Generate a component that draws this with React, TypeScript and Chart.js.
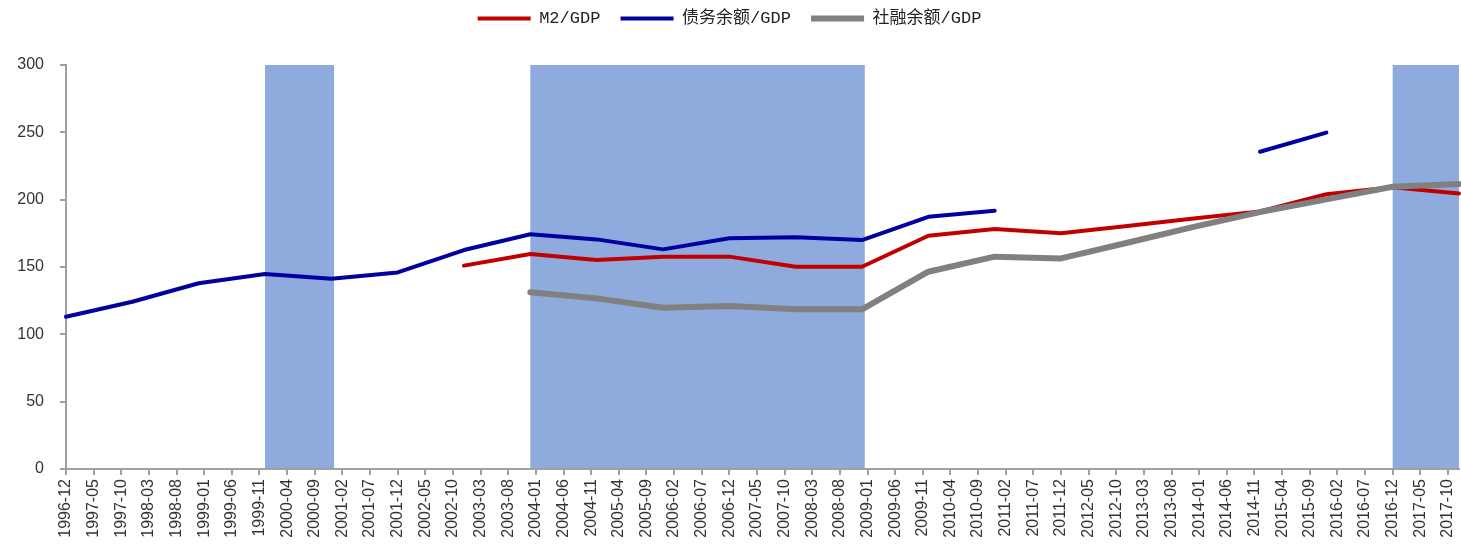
import React, { useEffect, useRef } from "react";
import { Chart, registerables } from "chart.js";

Chart.register(...registerables);

// ---- categories: monthly axis 1996-12 .. 2017-12 ----
const FIRST_MONTH = { year: 1996, month: 12 };
const LAST_MONTH = { year: 2017, month: 12 };
const LABEL_EVERY = 5;

function buildMonths(): string[] {
  const out: string[] = [];
  let y = FIRST_MONTH.year;
  let m = FIRST_MONTH.month;
  while (y < LAST_MONTH.year || (y === LAST_MONTH.year && m <= LAST_MONTH.month)) {
    out.push(`${y}-${m < 10 ? "0" + m : m}`);
    m += 1;
    if (m > 12) {
      m = 1;
      y += 1;
    }
  }
  return out;
}
const months = buildMonths();

// ---- year-end observations (December of each year) ----
const years = [
  1996, 1997, 1998, 1999, 2000, 2001, 2002, 2003, 2004, 2005, 2006,
  2007, 2008, 2009, 2010, 2011, 2012, 2013, 2014, 2015, 2016, 2017,
];
const m2Gdp = [
  null, null, null, null, null, null, 151.0, 159.6, 155.2, 157.7, 157.7,
  150.2, 150.2, 173.2, 178.2, 175.0, 180.5, 186.0, 191.3, 204.0, 209.3, 204.5,
];
const debtGdp = [
  113.1, 124.2, 137.9, 144.8, 141.3, 146.0, 162.6, 174.3, 170.5, 163.1, 171.3,
  172.0, 170.0, 187.3, 191.8, null, null, null, 235.6, 249.8, null, null,
];
const tsfGdp = [
  null, null, null, null, null, null, null, 131.2, 126.7, 119.8, 121.0,
  118.6, 118.6, 146.5, 157.7, 156.4, 168.0, 179.8, 190.8, 200.2, 209.6, 211.6,
];

const seriesNames = ["M2/GDP", "债务余额/GDP", "社融余额/GDP"];
const seriesColors = ["#C00000", "#0000A0", "#808080"];

// shaded periods (start month, end month)
const shadedPeriods: [string, string][] = [
  ["1999-12", "2000-12"],
  ["2003-12", "2008-12"],
  ["2016-12", "2017-12"],
];
const SHADE_COLOR = "#8FAADC";

const AXIS_COLOR = "#A0A0A0";
const TEXT_COLOR = "#333333";

const toPoints = (vals: (number | null)[]) =>
  years.map((yr, i) => ({ x: `${yr}-12`, y: vals[i] }));

const bandsPlugin = {
  id: "shadedBands",
  beforeDraw(chart: any) {
    const x = chart.scales.x;
    const { top, bottom, right } = chart.chartArea;
    const ctx = chart.ctx;
    const step = x.getPixelForValue(1) - x.getPixelForValue(0);
    ctx.save();
    ctx.fillStyle = SHADE_COLOR;
    for (const [s, e] of shadedPeriods) {
      const x0 = x.getPixelForValue(months.indexOf(s));
      const x1 = Math.min(right, x.getPixelForValue(months.indexOf(e)) + step / 2);
      ctx.fillRect(x0, top, x1 - x0, bottom - top);
    }
    ctx.restore();
  },
};

export default function App() {
  const ref = useRef<HTMLCanvasElement | null>(null);

  useEffect(() => {
    if (!ref.current) return;
    const common = {
      pointRadius: 0,
      pointHoverRadius: 0,
      pointStyle: "line",
      tension: 0,
      spanGaps: false,
      borderCapStyle: "round",
      borderJoinStyle: "round",
    };
    const chart = new Chart(ref.current, {
      type: "line",
      data: {
        labels: months,
        datasets: [
          {
            ...common,
            label: seriesNames[0],
            data: toPoints(m2Gdp),
            borderColor: seriesColors[0],
            backgroundColor: seriesColors[0],
            borderWidth: 4,
            order: 2,
          },
          {
            ...common,
            label: seriesNames[1],
            data: toPoints(debtGdp),
            borderColor: seriesColors[1],
            backgroundColor: seriesColors[1],
            borderWidth: 4,
            order: 1,
          },
          {
            ...common,
            label: seriesNames[2],
            data: toPoints(tsfGdp),
            borderColor: seriesColors[2],
            backgroundColor: seriesColors[2],
            borderWidth: 6,
            order: 0,
          },
        ] as any,
      },
      options: {
        animation: false,
        responsive: true,
        maintainAspectRatio: false,
        events: [],
        layout: { padding: { top: 0, right: 2, bottom: 0, left: 0 } },
        plugins: {
          tooltip: { enabled: false },
          title: {
            display: true,
            text: "",
            padding: { top: 18, bottom: 0 },
            font: { size: 10, lineHeight: 1 },
          },
          legend: {
            display: true,
            position: "top",
            weight: 3000,
            labels: {
              usePointStyle: true,
              pointStyleWidth: 53,
              padding: 10,
              color: "#222222",
              font: {
                family: '"Liberation Mono", "Noto Sans CJK SC", monospace',
                size: 17,
              },
              sort: (a: any, b: any) => a.datasetIndex - b.datasetIndex,
              generateLabels: (chart: any) => {
                const items = Chart.defaults.plugins.legend.labels.generateLabels(chart);
                items.sort((a: any, b: any) => a.datasetIndex - b.datasetIndex);
                return items.map((it: any, i: number) => ({
                  ...it,
                  text: i < items.length - 1 ? it.text + " " : it.text,
                }));
              },
            },
          } as any,
        },
        scales: {
          x: {
            type: "category",
            offset: false,
            grid: {
              display: true,
              drawOnChartArea: false,
              drawTicks: true,
              tickLength: 6,
              lineWidth: 2,
              color: (c: any) => (c.index % LABEL_EVERY === 0 ? AXIS_COLOR : "rgba(0,0,0,0)"),
              tickColor: (c: any) => (c.index % LABEL_EVERY === 0 ? AXIS_COLOR : "rgba(0,0,0,0)"),
            },
            border: { display: true, color: AXIS_COLOR, width: 2 },
            ticks: {
              autoSkip: false,
              minRotation: 90,
              maxRotation: 90,
              padding: 4,
              color: TEXT_COLOR,
              font: { family: '"Liberation Sans", Arial, sans-serif', size: 16 },
              callback: (_v: any, i: number) => (i % LABEL_EVERY === 0 ? months[i] : ""),
            },
            afterFit: (scale: any) => {
              scale.height = 75;
              scale.paddingLeft = 0;
              scale.paddingRight = 0;
            },
          },
          y: {
            min: 0,
            max: 300,
            grid: {
              display: true,
              drawOnChartArea: false,
              drawTicks: true,
              tickLength: 6,
              lineWidth: 2,
              color: AXIS_COLOR,
              tickColor: AXIS_COLOR,
            },
            border: { display: true, color: AXIS_COLOR, width: 2 },
            ticks: {
              stepSize: 50,
              padding: 16,
              color: TEXT_COLOR,
              font: { family: '"Liberation Sans", Arial, sans-serif', size: 16 },
            },
            afterFit: (scale: any) => {
              scale.width = 66;
            },
          },
        },
      } as any,
      plugins: [bandsPlugin],
    });
    return () => chart.destroy();
  }, []);

  return (
    <div
      style={{
        position: "fixed",
        left: 0,
        top: 0,
        width: "1461px",
        height: "544px",
        background: "#ffffff",
      }}
    >
      <canvas ref={ref} />
    </div>
  );
}
